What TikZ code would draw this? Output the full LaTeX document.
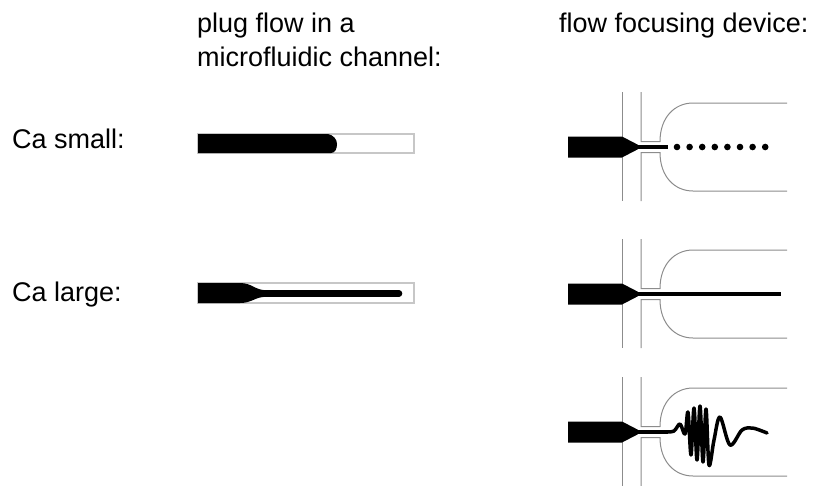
\documentclass[tikz,border=0pt]{standalone}
\usepackage{fontspec}
\setmainfont{Liberation Sans}
\tikzset{wall/.style = {draw = black!45, line width = 1pt},
  tube/.style = {draw = black!22, line width = 1.5pt, fill = white},
  fluid/.style = {fill = black},
  lbl/.style = {anchor = base west, inner sep = 0, font = \fontsize{27}{32}\selectfont}}

\begin{document}
\begin{tikzpicture}[x = 1pt, y = -1pt]
  \useasboundingbox (0, 0) rectangle (816, 485);

  % headings and row labels
  \node [lbl] (plug1) at (197, 32) {plug flow in a};
  \node [lbl] (plug2) at (197, 66) {microfluidic channel:};
  \node [lbl] (ffd) at (559, 32) {flow focusing device:};
  \node [lbl] (small) at (12, 148) {Ca small:};
  \node [lbl] (large) at (12, 301) {Ca large:};

  % plug flow, small Ca
  \draw [tube] (198, 134) rectangle (414, 153);
  \fill [fluid] (198, 134) -- (328, 134) .. controls (333, 135) and (337, 139) .. (337, 144)
    .. controls (337, 149) and (335, 153) .. (331, 153) -- (198, 153) -- cycle;

  % plug flow, large Ca
  \draw [tube] (198, 283) rectangle (414, 303);
  \fill [fluid] (198, 283) -- (240, 283) .. controls (252, 283) and (255, 290.2) .. (266, 290.2)
    -- (266, 296.8) .. controls (255, 296.8) and (252, 303) .. (240, 303) -- (198, 303) -- cycle;
  \draw [line width = 6.6pt, line cap = round] (262, 293.5) -- (399, 293.5);

  % the three flow focusing devices
  \foreach \cy in {147, 294, 432} {
    \begin{scope}[shift = {(0, \cy)}]
      \draw [wall] (622, -55) -- (622, 54);
      \draw [wall] (641, -55) -- (641, -5.5) -- (660, -5.5)
        .. controls (660, -29.8) and (674.8, -44) .. (693, -44) -- (787, -44);
      \draw [wall] (641, 54) -- (641, 5.5) -- (660, 5.5)
        .. controls (660, 29.8) and (674.8, 44) .. (693, 44) -- (787, 44);
      \fill [fluid] (568, -10.5) -- (622, -10.5) -- (638, -2.2) -- (638, 2.2)
        -- (622, 10.5) -- (568, 10.5) -- cycle;
    \end{scope}
  }

  % jet breaking up into drops
  \draw [line width = 4.4pt] (636, 147) -- (668, 147);
  \foreach \i in {0, ..., 7}
    \fill [fluid] (677 + 12.6 * \i, 147) circle [radius = 3.3];

  % long stable jet
  \draw [line width = 4.3pt] (636, 294) -- (781, 294);

  % buckling jet
  \draw [line width = 4pt] (636, 432) -- (668, 432);
  \draw [line width = 3.5pt, line cap = round, line join = round]
    plot [smooth, tension = 0.55] coordinates {(666, 432) (674, 431) (680, 424) (685, 434)
      (688, 412) (691, 455) (694, 408) (697, 460) (700, 406) (703, 462) (706, 409)
      (709, 465) (714, 440) (720, 417) (730, 445) (742, 430) (752, 428) (762, 431) (767, 433)};
\end{tikzpicture}
\end{document}
